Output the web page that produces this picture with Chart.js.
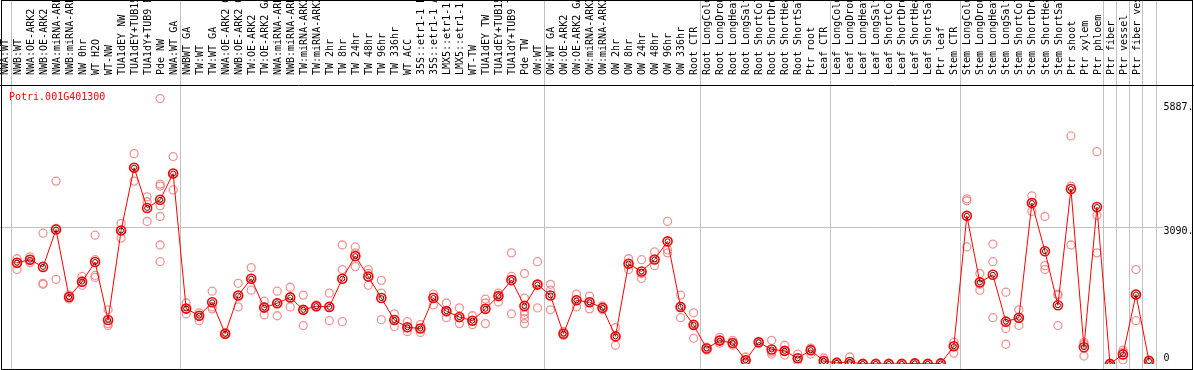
<!DOCTYPE html>
<html>
<head>
<meta charset="utf-8">
<script src="https://cdn.jsdelivr.net/npm/chart.js@4.4.1/dist/chart.umd.min.js"></script>
<style>
  body { margin: 0; background: #fff; }
  canvas { display: block; }
</style>
</head>
<body>
<canvas id="expr" width="1194" height="370"></canvas>
<script>
const geneName = 'Potri.001G401300'

const samples = [
  'NWA:WT', 'NWB:WT', 'NWA:OE-ARK2', 'NWB:OE-ARK2', 'NWA:miRNA-ARK2', 'NWB:miRNA-ARK2', 'NW 0hr', 'WT H2O', 'WT-NW',
  'TUA1dEY NW', 'TUA1dEY+TUB15 NW', 'TUA1dY+TUB9 NW', 'Pde NW',
  'NWA:WT GA', 'NWBWT GA', 'TW:WT', 'TW:WT GA', 'NWA:OE-ARK2 GA', 'NWB:OE-ARK2 GA', 'TW:OE-ARK2', 'TW:OE-ARK2 GA',
  'NWA:miRNA-ARK2 GA', 'NWB:miRNA-ARK2 GA', 'TW:miRNA-ARK2', 'TW:miRNA-ARK2 GA', 'TW 2hr', 'TW 8hr', 'TW 24hr', 'TW 48hr',
  'TW 96hr', 'TW 336hr', 'WT ACC', '35S::etr1-1 H2O', '35S::etr1-1 ACC', 'LMX5::etr1-1 H2O', 'LMX5::etr1-1 ACC', 'WT-TW',
  'TUA1dEY TW', 'TUA1dEY+TUB15 TW', 'TUA1dY+TUB9 TW', 'Pde TW',
  'OW:WT', 'OW:WT GA', 'OW:OE-ARK2', 'OW:OE-ARK2 GA', 'OW:miRNA-ARK2', 'OW:miRNA-ARK2 GA', 'OW 2hr', 'OW 8hr', 'OW 24hr',
  'OW 48hr', 'OW 96hr', 'OW 336hr',
  'Root CTR', 'Root LongCold', 'Root LongDrought', 'Root LongHeat', 'Root LongSalt', 'Root ShortCold', 'Root ShortDrought',
  'Root ShortHeat', 'Root ShortSalt', 'Ptr root',
  'Leaf CTR', 'Leaf LongCold', 'Leaf LongDrought', 'Leaf LongHeat', 'Leaf LongSalt', 'Leaf ShortCold', 'Leaf ShortDrought',
  'Leaf ShortHeat', 'Leaf ShortSalt', 'Ptr leaf',
  'Stem CTR', 'Stem LongCold', 'Stem LongDrought', 'Stem LongHeat', 'Stem LongSalt', 'Stem ShortCold', 'Stem ShortDrought',
  'Stem ShortHeat', 'Stem ShortSalt', 'Ptr shoot',
  'Ptr xylem', 'Ptr phloem', 'Ptr fiber', 'Ptr vessel', 'Ptr fiber vessel'
]

// index of first sample of each block (a separator is drawn before it), last entry = end
const groupStarts = [0, 13, 41, 53, 63, 73, 84, 85, 86, 87, 88]

const meanValues = [
  2276, 2343, 2181, 3021, 1503, 1850, 2292, 988, 2999, 4413, 3507, 3691, 4281,
  1244, 1083, 1386, 678, 1540, 1916, 1266, 1364, 1496, 1216, 1297, 1282, 1916, 2424, 1967, 1481,
  988, 824, 796, 1481, 1187, 1054, 972, 1238, 1525, 1885, 1304, 1783,
  1540, 678, 1430, 1386, 1260, 619, 2254, 2077, 2349, 2756, 1282, 877,
  347, 524, 471, 82, 486, 325, 294, 126, 309, 66,
  22, 44, 0, 0, 0, 0, 11, 0, 11, 398,
  3330, 1834, 2004, 950, 1039, 3618, 2535, 1319, 3934, 376,
  3529, 0, 214, 1562, 66
]

const replicateValues = [
  [2365, 2254, 2122], [2409, 2343, 2276], [2939, 1812, 1790], [4111, 3050, 1901], [1547, 1503, 1459],
  [1967, 1834, 1768], [2895, 2343, 1989, 1945], [1216, 906, 862], [3160, 3006, 2829], [4729, 4420, 4111],
  [3757, 3647, 3205], [5967, 4044, 4000, 3558, 3315, 2674, 2298], [4663, 4287, 3912],
  [1370, 1238, 1127], [1149, 1083, 972], [1635, 1282, 1238], [707, 685, 663], [1812, 1547, 1282],
  [2166, 1923, 1658], [1414, 1282, 1105], [1635, 1370, 1083], [1724, 1503, 1282], [1547, 1216, 862],
  [1326, 1304, 1282], [1591, 1282, 972], [2674, 2122, 950], [2630, 2497, 2188], [2122, 2033, 1768],
  [1879, 1591, 995], [1127, 995, 840], [950, 818, 729], [884, 796, 707], [1569, 1503, 1326],
  [1370, 1171, 1039], [1260, 1039, 906], [1083, 972, 884], [1459, 1370, 906], [1591, 1525, 1392],
  [2497, 1967, 1127], [2033, 1481, 1171, 1105, 1017, 906], [2298, 1790, 1260],
  [1790, 1658, 1216], [729, 685, 641], [1569, 1437, 1282], [1525, 1392, 1238], [1304, 1260, 1216],
  [818, 619, 420], [2365, 2254, 2122], [2343, 2033, 1923], [2519, 2343, 2210], [3205, 2564, 2497],
  [1547, 1282, 1039], [1149, 884, 575],
  [376, 354, 309], [597, 530, 464], [530, 464, 420], [155, 88, 22], [508, 486, 464],
  [530, 265, 221], [420, 287, 199], [221, 133, 66], [354, 309, 221], [133, 66, 22],
  [44, 22, 0], [155, 0, 0], [0, 0, 0], [0, 0, 0], [0, 0, 0],
  [0, 0, 0], [22, 11, 0], [0, 0, 0], [22, 11, 0], [486, 398, 243],
  [3713, 3669, 2630], [2033, 1790, 1658], [2696, 2298, 1039], [1613, 796, 442], [1216, 1039, 862],
  [3779, 3624, 3426], [3315, 2210, 2122], [1569, 1547, 862], [5127, 4000, 2674], [486, 442, 177],
  [4774, 3337, 2497], [0, 0, 0], [309, 265, 88], [2122, 1569, 972], [88, 66, 44]
]

const yTickValues = [0, 3090, 5887]
const yTickLabels = ['0', '3090.', '5887.']
const yGridValues = [3090]

const FONT = '10px "DejaVu Sans Mono", monospace'

// one point per replicate, keyed by its sample label
const replicatePoints = []
replicateValues.forEach((vals, i) => {
  vals.forEach(v => replicatePoints.push({ x: samples[i], y: v }))
})

// separators, 3090 line, frame, gene name and right-hand labels
const decorations = {
  id: 'decorations',
  beforeDatasetsDraw(chart) {
    const { ctx, chartArea, scales } = chart
    const x = scales.x
    const y = scales.y
    ctx.save()
    ctx.strokeStyle = '#c0c0c0'
    ctx.lineWidth = 1
    groupStarts.forEach(g => {
      const px = Math.round(x.getPixelForValue(g - 0.5)) + 0.5
      ctx.beginPath()
      ctx.moveTo(px, 0)
      ctx.lineTo(px, chart.height)
      ctx.stroke()
    })
    yGridValues.forEach(v => {
      const py = Math.round(y.getPixelForValue(v)) + 0.5
      ctx.beginPath()
      ctx.moveTo(0, py)
      ctx.lineTo(chartArea.right + 8, py)
      ctx.stroke()
    })
    ctx.restore()
  },
  afterDraw(chart) {
    const { ctx, chartArea, scales } = chart
    const y = scales.y
    ctx.save()
    ctx.strokeStyle = '#000'
    ctx.lineWidth = 1
    ctx.beginPath()
    ctx.moveTo(0, chartArea.top - 0.5)
    ctx.lineTo(chart.width, chartArea.top - 0.5)
    ctx.stroke()
    ctx.strokeRect(1.5, 0.5, chart.width - 3, chart.height - 1)

    ctx.font = FONT
    ctx.fillStyle = '#ff0000'
    ctx.textAlign = 'left'
    ctx.textBaseline = 'middle'
    ctx.fillText(geneName, 9, chartArea.top + 11)

    ctx.fillStyle = '#000'
    yTickValues.forEach((v, i) => {
      ctx.textBaseline = v === 0 ? 'bottom' : 'top'
      ctx.fillText(yTickLabels[i], chartArea.right + 8, y.getPixelForValue(v))
    })
    ctx.restore()
  }
}

new Chart(document.getElementById('expr').getContext('2d'), {
  type: 'line',
  data: {
    labels: samples,
    datasets: [
      {
        label: 'mean ring',
        data: meanValues,
        showLine: false,
        pointRadius: 2.5,
        pointBorderWidth: 1,
        pointBorderColor: 'rgba(60,0,0,0.9)',
        pointBackgroundColor: 'transparent',
        order: 0,
      },
      {
        label: 'mean',
        data: meanValues,
        borderColor: '#ff0000',
        borderWidth: 1,
        tension: 0,
        pointRadius: 4.5,
        pointBorderWidth: 1.6,
        pointBorderColor: '#ff0000',
        pointBackgroundColor: 'transparent',
        order: 1,
      },
      {
        label: 'replicates',
        data: replicatePoints,
        showLine: false,
        pointRadius: 4,
        pointBorderWidth: 1.3,
        pointBorderColor: 'rgba(235,130,130,0.85)',
        pointBackgroundColor: 'transparent',
        order: 2,
      },
    ],
  },
  options: {
    responsive: false,
    animation: false,
    devicePixelRatio: 1,
    layout: { padding: { left: 10.5, right: 38.5, top: 0, bottom: 2 } },
    plugins: { legend: { display: false }, tooltip: { enabled: false } },
    scales: {
      x: {
        position: 'top',
        offset: true,
        grid: { display: false },
        border: { display: false },
        afterFit: s => { s.height = 86 },
        ticks: {
          autoSkip: false,
          maxRotation: 90,
          minRotation: 90,
          padding: 3,
          color: '#000',
          font: { family: '"DejaVu Sans Mono", monospace', size: 10 },
        },
      },
      y: {
        display: false,
        min: 0,
        max: 6250,
      },
    },
  },
  plugins: [decorations],
})
</script>
</body>
</html>
